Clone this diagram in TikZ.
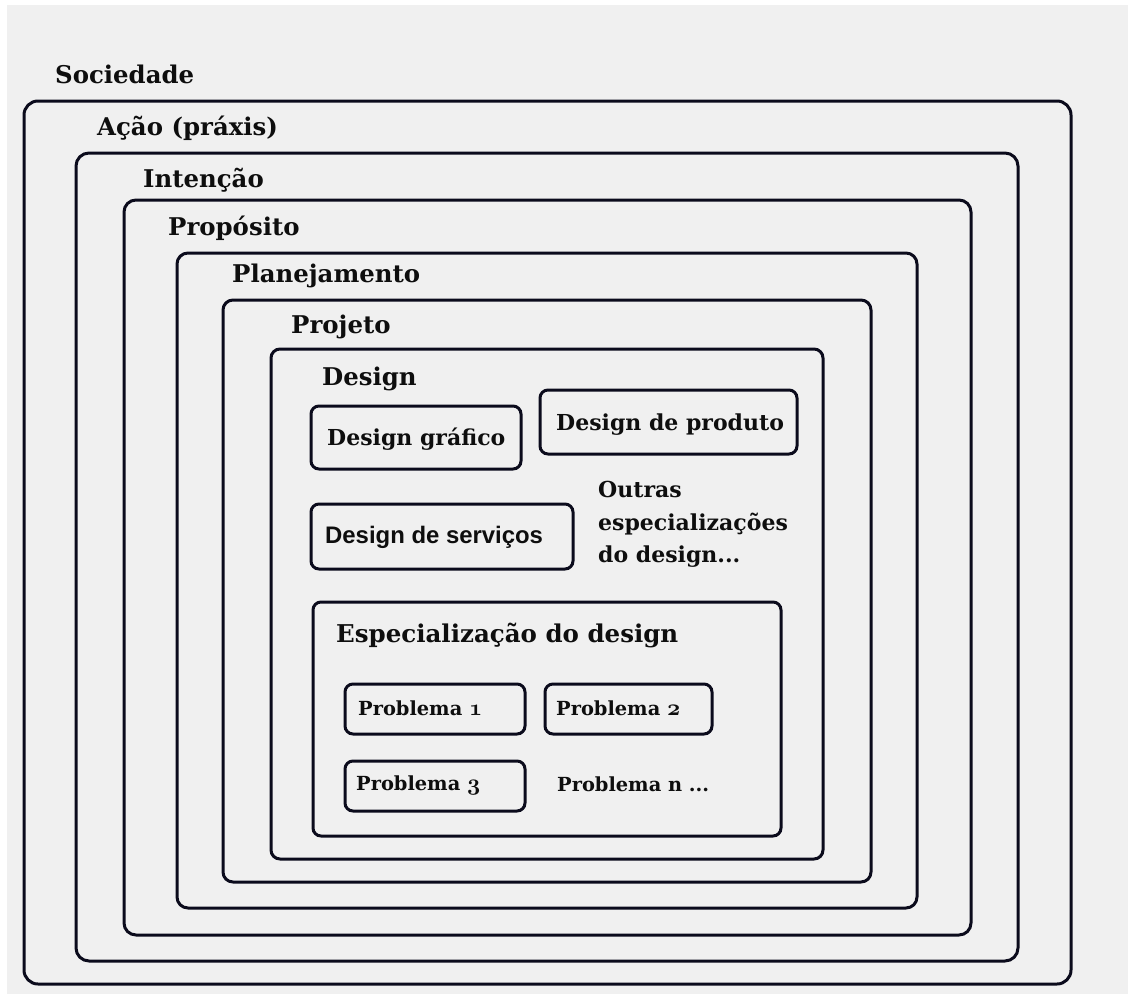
\documentclass[tikz,border=0pt]{standalone}
\usepackage{fontspec}
\setmainfont{DejaVu Serif}
\newfontfamily\boxsans{Liberation Sans}
\definecolor{bgpaper}{HTML}{F0F0F0}
\definecolor{ink}{HTML}{0B0B1C}
\definecolor{txt}{HTML}{0E0E0E}
% bold old-style figures, taken from the (freely scalable) bold math italic font
\DeclareFontFamily{OML}{oscmb}{\skewchar\font=127}
\DeclareFontShape{OML}{oscmb}{b}{it}{<-> cmmib10}{}
\newcommand\osnum[1]{{\fontencoding{OML}\fontfamily{oscmb}\fontseries{b}\fontshape{it}\fontsize{23}{24}\selectfont #1}}
\begin{document}
\begin{tikzpicture}[x=1pt,y=-1pt,
  frame/.style={draw=ink,line width=3pt,outer sep=0pt,inner sep=0pt,anchor=north west},
  lbl/.style={anchor=base west,inner sep=0pt,text=txt,font=\fontsize{22}{26}\selectfont\bfseries},
  levellbl/.style={lbl,font=\fontsize{24.4}{29}\selectfont\bfseries},
  biglbl/.style={lbl,font=\fontsize{24.5}{29}\selectfont\bfseries},
  smalllbl/.style={lbl,font=\fontsize{19.4}{23}\selectfont\bfseries},
  sanslbl/.style={lbl,font=\fontsize{23.9}{28}\boxsans\bfseries}]
\useasboundingbox (0,0) rectangle (1128,994);
\fill[white] (0,0) rectangle (1128,994);
\fill[bgpaper] (7,5) rectangle (1128,994);

% nested frames
\node[frame,rounded corners=14pt,minimum width=1047pt,minimum height=883pt] (soc) at (24,101) {};
\node[frame,rounded corners=13pt,minimum width=942pt,minimum height=808pt] (acao) at (76,153) {};
\node[frame,rounded corners=12pt,minimum width=847pt,minimum height=735pt] (inten) at (124,200) {};
\node[frame,rounded corners=11pt,minimum width=740pt,minimum height=655pt] (prop) at (177,253) {};
\node[frame,rounded corners=10pt,minimum width=648pt,minimum height=582pt] (plan) at (223,300) {};
\node[frame,rounded corners=9pt,minimum width=552pt,minimum height=510pt] (proj) at (271,349) {};
\node[frame,rounded corners=8pt,minimum width=468pt,minimum height=234pt] (espec) at (313,602) {};

% design areas
\node[frame,rounded corners=8pt,minimum width=210pt,minimum height=63pt] (dgraf) at (311,406) {};
\node[frame,rounded corners=8pt,minimum width=257pt,minimum height=64pt] (dprod) at (540,390) {};
\node[frame,rounded corners=8pt,minimum width=262pt,minimum height=65pt] (dserv) at (311,504) {};

% problems
\node[frame,rounded corners=8pt,minimum width=180pt,minimum height=50pt] (p1) at (345,684) {};
\node[frame,rounded corners=8pt,minimum width=167pt,minimum height=50pt] (p2) at (545,684) {};
\node[frame,rounded corners=8pt,minimum width=180pt,minimum height=50pt] (p3) at (345,761) {};

% frame labels
\node[levellbl] (tsoc) at (55,83) {Sociedade};
\node[levellbl] (tacao) at (97,135) {Ação (práxis)};
\node[levellbl] (tinten) at (143,187) {Intenção};
\node[levellbl] (tprop) at (168,235) {Propósito};
\node[levellbl] (tplan) at (232,282) {Planejamento};
\node[levellbl] (tproj) at (291,333) {Projeto};
\node[levellbl] (tdes) at (322,385) {Design};

\node[lbl] (tgraf) at (327,445) {Design gráfico};
\node[lbl] (tprod) at (556,430) {Design de produto};
\node[sanslbl] (tserv) at (325,543) {Design de serviços};
\node[lbl] (tout1) at (598,497) {Outras};
\node[lbl] (tout2) at (598,530) {especializações};
\node[lbl] (tout3) at (598,562) {do design...};

\node[biglbl] (tespec) at (336,642) {Especialização do design};
\node[smalllbl] (tp1) at (358,715) {Problema \osnum{1}};
\node[smalllbl] (tp2) at (556,715) {Problema \osnum{2}};
\node[smalllbl] (tp3) at (356,790) {Problema \osnum{3}};
\node[smalllbl] (tpn) at (557,791) {Problema n ...};
\end{tikzpicture}
\end{document}
